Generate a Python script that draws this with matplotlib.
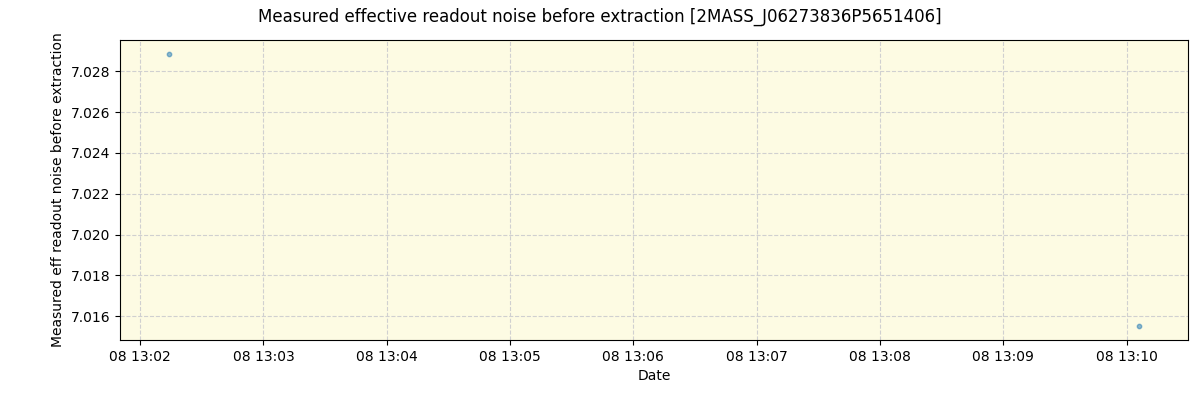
import numpy as np
import pandas as pd
import matplotlib
matplotlib.use("Agg")
import matplotlib.pyplot as plt
import matplotlib.dates as mdates

# values
dates = pd.to_datetime(["2021-01-08 13:02:13.8", "2021-01-08 13:10:06.3"])
noise = [7.02886, 7.01550]

fig, ax = plt.subplots(figsize=(12, 4), dpi=100)
fig.subplots_adjust(left=0.1, right=0.99, top=0.9, bottom=0.15)
ax.set_facecolor("#fdfbe3")
ax.scatter(dates, noise, s=10, color="tab:blue", alpha=0.5, zorder=3)
ax.grid(True, linestyle="--", color="#d0d0d0", linewidth=0.8)
ax.set_axisbelow(True)
ax.xaxis.set_major_locator(mdates.MinuteLocator())
ax.xaxis.set_major_formatter(mdates.DateFormatter("%d %H:%M"))
ax.set_xlabel("Date")
ax.set_ylabel("Measured eff readout noise before extraction")
fig.suptitle("Measured effective readout noise before extraction [2MASS_J06273836P5651406]")
fig.savefig("out.png")
